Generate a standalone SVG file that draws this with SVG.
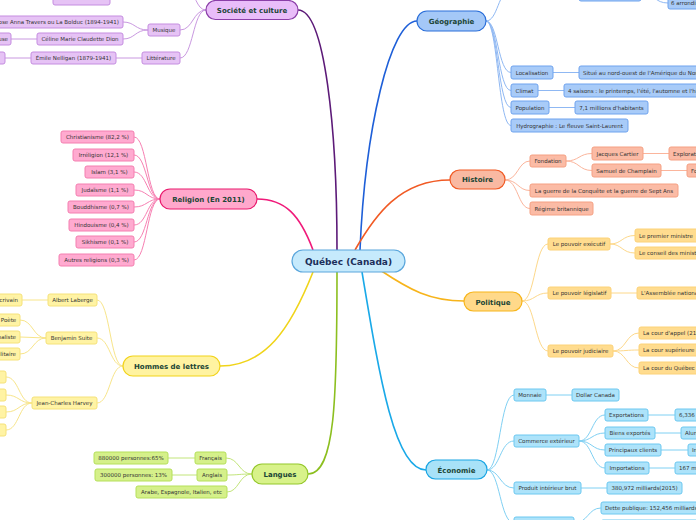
<svg xmlns="http://www.w3.org/2000/svg" width="696" height="520" viewBox="0 0 696 520">
<style>
text{font-family:"DejaVu Sans","Verdana",sans-serif;}
.m{font-size:7px;font-weight:bold;fill:#1b4535;text-anchor:middle;}
.c{font-size:9px;font-weight:bold;fill:#1c2f5a;text-anchor:middle;}
.t{font-size:5.5px;fill:#333;text-anchor:middle;}
.s{font-size:5.5px;fill:#333;text-anchor:start;}
.e{font-size:5.5px;fill:#333;text-anchor:end;}
.l{fill:none;}
.soc rect{fill:#e6c3f5;stroke:#c58de0;stroke-width:1;}
.geo rect{fill:#a8cbf8;stroke:#6fa3ee;stroke-width:1;}
.his rect{fill:#fbbba5;stroke:#f5a083;stroke-width:1;}
.pol rect{fill:#ffdc8f;stroke:#fcd278;stroke-width:1;}
.eco rect{fill:#ade3fa;stroke:#6cc8f0;stroke-width:1;}
.lan rect{fill:#d5f08a;stroke:#b5e05a;stroke-width:1;}
.hom rect{fill:#fff3a4;stroke:#f5e27a;stroke-width:1;}
.rel rect{fill:#ffaad0;stroke:#f47fb0;stroke-width:1;}
</style>
<g id="connectors" fill="none">
<g stroke-width="1.6">
<path d="M337,250 C337,130 325,10 298,10" stroke="#5c1a78"/>
<path d="M360,250 C365,130 390,21 417,21" stroke="#1e5fd8"/>
<path d="M355,250 C375,215 400,180 450,180" stroke="#f15a24"/>
<path d="M313,250 C300,215 285,199 257,199" stroke="#f01a7a"/>
<path d="M380,270 C410,290 430,301 464,301" stroke="#f7b41b"/>
<path d="M362,272 C380,380 395,470 426,470" stroke="#1aa9e8"/>
<path d="M337,272 C337,400 335,474 308,474" stroke="#8cbf1f"/>
<path d="M313,272 C290,330 265,366 220,366" stroke="#f0d41a"/>
</g>
<g stroke="#c998e0" stroke-width="1">
<path d="M206,10 C193,10 193,30 180,30"/>
<path d="M206,10 C193,10 193,58 180,58"/>
<path d="M206,10 C196,10 196,-8 186,-12"/>
<path d="M148,30 C135,30 135,22 123,22"/>
<path d="M148,30 C135,30 135,39 123,39"/>
<path d="M37,39 L11,39"/>
<path d="M142,58 L116,58"/>
<path d="M31,58 L5,58"/>
</g>
<g stroke="#f77fb2" stroke-width="1">
<path d="M160,199 C147,199 147,137 134,137"/>
<path d="M160,199 C147,199 147,155 134,155"/>
<path d="M160,199 C147,199 147,172 134,172"/>
<path d="M160,199 C147,199 147,190 134,190"/>
<path d="M160,199 C147,199 147,207 134,207"/>
<path d="M160,199 C147,199 147,225 134,225"/>
<path d="M160,199 C147,199 147,242 134,242"/>
<path d="M160,199 C147,199 147,260 134,260"/>
</g>
<g stroke="#8fb8f3" stroke-width="1">
<path d="M486,21 C498,21 498,-10 511,-10"/>
<path d="M486,21 C498,21 498,72.5 511,72.5"/>
<path d="M486,21 C498,21 498,90.5 511,90.5"/>
<path d="M486,21 C498,21 498,107.5 511,107.5"/>
<path d="M486,21 C498,21 498,125.5 511,125.5"/>
<path d="M553,72.5 L579,72.5"/>
<path d="M538,90.5 L564,90.5"/>
<path d="M549,107.5 L575,107.5"/>
<path d="M641,-6 C655,-6 655,3 668,3"/>
</g>
<g stroke="#fbb59c" stroke-width="1">
<path d="M505,180 C518,180 518,161 530,161"/>
<path d="M505,180 C518,180 518,190.5 530,190.5"/>
<path d="M505,180 C518,180 518,208.5 530,208.5"/>
<path d="M566,161 C579,161 579,153.5 592,153.5"/>
<path d="M566,161 C579,161 579,170.5 592,170.5"/>
<path d="M643,153.5 L669,153.5"/>
<path d="M661,170.5 L687,170.5"/>
</g>
<g stroke="#fdd88a" stroke-width="1">
<path d="M522,301 C535,301 535,244 548,244"/>
<path d="M522,301 C535,301 535,293 548,293"/>
<path d="M522,301 C535,301 535,351 548,351"/>
<path d="M610,244 C622,244 622,235.5 635,235.5"/>
<path d="M610,244 C622,244 622,253 635,253"/>
<path d="M611,293 L637,293"/>
<path d="M613,351 C626,351 626,333 639,333"/>
<path d="M613,351 C626,351 626,350 639,350"/>
<path d="M613,351 C626,351 626,368 639,368"/>
</g>
<g stroke="#7fd0f3" stroke-width="1">
<path d="M487,470 C500,470 500,395 514,395"/>
<path d="M487,470 C500,470 500,441 514,441"/>
<path d="M487,470 C500,470 500,488 514,488"/>
<path d="M487,470 C500,470 500,523 514,523"/>
<path d="M546,395 L572,395"/>
<path d="M579,441 C592,441 592,415 605,415"/>
<path d="M579,441 C592,441 592,433 605,433"/>
<path d="M579,441 C592,441 592,450 605,450"/>
<path d="M579,441 C592,441 592,468 605,468"/>
<path d="M648,415 L675,415"/>
<path d="M655,433 L681,433"/>
<path d="M661,450 L688,450"/>
<path d="M649,468 L675,468"/>
<path d="M581,488 L607,488"/>
<path d="M574,523 C588,523 588,508 601,508"/>
<path d="M574,523 C588,523 588,526 601,526"/>
</g>
<g stroke="#c2e57a" stroke-width="1">
<path d="M252,474 C239,474 239,458 226,458"/>
<path d="M252,474 C239,474 239,475 227,475"/>
<path d="M252,474 C239,474 239,492 227,492"/>
<path d="M195,458 L168,458"/>
<path d="M197,475 L172,475"/>
</g>
<g stroke="#f8e58a" stroke-width="1">
<path d="M123,366 C110,366 110,300 97,300"/>
<path d="M123,366 C110,366 110,338 97,338"/>
<path d="M123,366 C110,366 110,403 97,403"/>
<path d="M48,300 L22,300"/>
<path d="M46,338 C33,338 33,320 20,320"/>
<path d="M46,338 L20,337"/>
<path d="M46,338 C33,338 33,354 20,354"/>
<path d="M32,403 C19,403 19,377 6,377"/>
<path d="M32,403 C19,403 19,395 6,395"/>
<path d="M32,403 C19,403 19,412 6,412"/>
<path d="M32,403 C19,403 19,430 6,430"/>
</g>
</g>

<g id="quebec"><rect x="292" y="250" width="113" height="22" rx="11" fill="#c6eafc" stroke="#5aa6dc" stroke-width="1.2"/><text class="c" x="348.5" y="264.5">Québec (Canada)</text></g>

<g id="societe"><rect x="206" y="0.5" width="92" height="19" rx="9.5" fill="#e9bdf9" stroke="#8b3fa8" stroke-width="1.2"/><text class="m" x="252" y="12.5">Société et culture</text></g>
<g id="soc-children" class="soc">
<g id="musique"><rect x="148" y="24" width="32" height="12" rx="2"/><text class="t" x="164" y="32">Musique</text></g>
<g id="litterature"><rect x="142" y="52" width="38" height="12" rx="2"/><text class="t" x="161" y="60">Littérature</text></g>
<g id="bolduc"><rect x="-80" y="16" width="203" height="12" rx="2"/><text class="e" x="119" y="24">Mary Rose Anna Travers ou La Bolduc (1894-1941)</text></g>
<g id="celine"><rect x="37" y="33" width="86" height="12" rx="2"/><text class="t" x="80" y="41">Céline Marie Claudette Dion</text></g>
<g id="celine-c"><rect x="-35" y="33" width="46" height="12" rx="2"/><text class="e" x="8" y="41">Chanteuse</text></g>
<g id="nelligan"><rect x="31" y="52" width="85" height="12" rx="2"/><text class="t" x="73.5" y="60">Émile Nelligan (1879-1941)</text></g>
<g id="nelligan-c"><rect x="-30" y="52" width="35" height="12" rx="2"/></g>
<g id="soc-top"><rect x="53" y="-7" width="57" height="12" rx="2"/></g>
</g>

<g id="geographie"><rect x="417" y="11" width="69" height="20" rx="10" fill="#a4c8f7" stroke="#2a6ed9" stroke-width="1.2"/><text class="m" x="451.5" y="23.5">Géographie</text></g>
<g id="geo-children" class="geo">
<g id="geo-top"><rect x="579" y="-12" width="62" height="13" rx="2"/></g>
<g id="arrond"><rect x="668" y="-3" width="40" height="12" rx="2"/><text class="s" x="671" y="5">6 arrondissements</text></g>
<g id="localisation"><rect x="511" y="66" width="42" height="13" rx="2"/><text class="t" x="532" y="74.5">Localisation</text></g>
<g id="situe"><rect x="579" y="66" width="140" height="13" rx="2"/><text class="s" x="583" y="74.5">Situé au nord-ouest de l'Amérique du Nord</text></g>
<g id="climat"><rect x="511" y="84" width="27" height="13" rx="2"/><text class="t" x="524.5" y="92.5">Climat</text></g>
<g id="saisons"><rect x="564" y="84" width="160" height="13" rx="2"/><text class="s" x="568" y="92.5">4 saisons : le printemps, l'été, l'automne et l'hiver</text></g>
<g id="population"><rect x="511" y="101" width="38" height="13" rx="2"/><text class="t" x="530" y="109.5">Population</text></g>
<g id="habitants"><rect x="575" y="101" width="73" height="13" rx="2"/><text class="t" x="611.5" y="109.5">7,1 millions d'habitants</text></g>
<g id="hydro"><rect x="511" y="119" width="117" height="13" rx="2"/><text class="t" x="569.5" y="127.5">Hydrographie : Le fleuve Saint-Laurent</text></g>
</g>

<g id="histoire"><rect x="450" y="170" width="55" height="19" rx="9.5" fill="#f9b9a2" stroke="#f15a24" stroke-width="1.2"/><text class="m" x="477.5" y="182">Histoire</text></g>
<g id="his-children" class="his">
<g id="fondation"><rect x="530" y="155" width="36" height="12" rx="2"/><text class="t" x="548" y="163">Fondation</text></g>
<g id="cartier"><rect x="592" y="147" width="51" height="13" rx="2"/><text class="t" x="617.5" y="155.5">Jacques Cartier</text></g>
<g id="explorateur"><rect x="669" y="147" width="50" height="13" rx="2"/><text class="s" x="673" y="155.5">Explorateur</text></g>
<g id="champlain"><rect x="592" y="164" width="69" height="13" rx="2"/><text class="t" x="626.5" y="172.5">Samuel de Champlain</text></g>
<g id="fondateur"><rect x="687" y="164" width="40" height="13" rx="2"/><text class="s" x="691" y="172.5">Fondateur</text></g>
<g id="guerre"><rect x="530" y="184" width="148" height="13" rx="2"/><text class="t" x="604" y="192.5">La guerre de la Conquête et la guerre de Sept Ans</text></g>
<g id="regime"><rect x="530" y="202" width="63" height="13" rx="2"/><text class="t" x="561.5" y="210.5">Régime britannique</text></g>
</g>

<g id="politique"><rect x="464" y="292" width="58" height="19" rx="9.5" fill="#ffd98a" stroke="#f7b51b" stroke-width="1.2"/><text class="m" x="493" y="304.5">Politique</text></g>
<g id="pol-children" class="pol">
<g id="executif"><rect x="548" y="238" width="62" height="12" rx="2"/><text class="t" x="579" y="246">Le pouvoir exécutif</text></g>
<g id="premier"><rect x="635" y="229" width="80" height="13" rx="2"/><text class="s" x="639" y="237.5">Le premier ministre</text></g>
<g id="conseil"><rect x="635" y="247" width="80" height="12" rx="2"/><text class="s" x="639" y="255">Le conseil des ministres</text></g>
<g id="legislatif"><rect x="548" y="287" width="63" height="12" rx="2"/><text class="t" x="579.5" y="295">Le pouvoir législatif</text></g>
<g id="assemblee"><rect x="637" y="287" width="80" height="12" rx="2"/><text class="s" x="641" y="295">L'Assemblée nationale</text></g>
<g id="judiciaire"><rect x="548" y="345" width="65" height="12" rx="2"/><text class="t" x="580.5" y="353">Le pouvoir judiciaire</text></g>
<g id="appel"><rect x="639" y="327" width="80" height="12" rx="2"/><text class="s" x="643" y="335">La cour d'appel (21</text></g>
<g id="superieure"><rect x="639" y="344" width="80" height="12" rx="2"/><text class="s" x="643" y="352">La cour supérieure</text></g>
<g id="courquebec"><rect x="639" y="362" width="80" height="12" rx="2"/><text class="s" x="643" y="370">La cour du Québec</text></g>
</g>

<g id="economie"><rect x="426" y="460" width="61" height="19" rx="9.5" fill="#a8e2f8" stroke="#1aa5e3" stroke-width="1.2"/><text class="m" x="456.5" y="472.5">Économie</text></g>
<g id="eco-children" class="eco">
<g id="monnaie"><rect x="514" y="389" width="32" height="12" rx="2"/><text class="t" x="530" y="397">Monnaie</text></g>
<g id="dollar"><rect x="572" y="389" width="47" height="12" rx="2"/><text class="t" x="595.5" y="397">Dollar Canada</text></g>
<g id="commerce"><rect x="514" y="435" width="65" height="12" rx="2"/><text class="t" x="546.5" y="443">Commerce extérieur</text></g>
<g id="exportations"><rect x="605" y="409" width="43" height="12" rx="2"/><text class="t" x="626.5" y="417">Exportations</text></g>
<g id="exp-v"><rect x="675" y="409" width="40" height="12" rx="2"/><text class="s" x="679" y="417">6,336</text></g>
<g id="biens"><rect x="605" y="427" width="50" height="12" rx="2"/><text class="t" x="630" y="435">Biens exportés</text></g>
<g id="biens-v"><rect x="681" y="427" width="40" height="12" rx="2"/><text class="s" x="685" y="435">Aluminium</text></g>
<g id="clients"><rect x="605" y="444" width="56" height="12" rx="2"/><text class="t" x="633" y="452">Principaux clients</text></g>
<g id="clients-v"><rect x="688" y="444" width="30" height="12" rx="2"/><text class="s" x="692" y="452">In</text></g>
<g id="importations"><rect x="605" y="462" width="44" height="12" rx="2"/><text class="t" x="627" y="470">Importations</text></g>
<g id="imp-v"><rect x="675" y="462" width="50" height="12" rx="2"/><text class="s" x="679" y="470">167 milliards</text></g>
<g id="pib"><rect x="514" y="482" width="67" height="12" rx="2"/><text class="t" x="547.5" y="490">Produit intérieur brut</text></g>
<g id="pib-v"><rect x="607" y="482" width="75" height="12" rx="2"/><text class="t" x="644.5" y="490">380,972 milliards(2015)</text></g>
<g id="eco-bottom"><rect x="514" y="517" width="60" height="12" rx="2"/></g>
<g id="dette"><rect x="601" y="502" width="110" height="12" rx="2"/><text class="s" x="605" y="510">Dette publique: 152,456 milliards</text></g>
<g id="eco-bottom2"><rect x="601" y="520" width="100" height="12" rx="2"/></g>
</g>

<g id="langues"><rect x="252" y="464" width="56" height="20" rx="10" fill="#d8f28a" stroke="#94c72a" stroke-width="1.2"/><text class="m" x="280" y="476.5">Langues</text></g>
<g id="lan-children" class="lan">
<g id="francais"><rect x="195" y="452" width="31" height="12" rx="2"/><text class="t" x="210.5" y="460">Français</text></g>
<g id="fr-v"><rect x="94" y="452" width="74" height="12" rx="2"/><text class="t" x="131" y="460">880000 personnes:65%</text></g>
<g id="anglais"><rect x="197" y="469" width="30" height="12" rx="2"/><text class="t" x="212" y="477">Anglais</text></g>
<g id="en-v"><rect x="95" y="469" width="77" height="12" rx="2"/><text class="t" x="133.5" y="477">300000 personnes:  13%</text></g>
<g id="autres-l"><rect x="136" y="486" width="91" height="12" rx="2"/><text class="t" x="181.5" y="494">Arabe, Espagnole, Italien, etc</text></g>
</g>

<g id="hommes"><rect x="123" y="356" width="97" height="20" rx="10" fill="#fff3a1" stroke="#f2d31b" stroke-width="1.2"/><text class="m" x="171.5" y="368.5">Hommes de lettres</text></g>
<g id="hom-children" class="hom">
<g id="laberge"><rect x="48" y="294" width="49" height="12" rx="2"/><text class="t" x="72.5" y="302">Albert Laberge</text></g>
<g id="ecrivain"><rect x="-8" y="294" width="30" height="12" rx="2"/><text class="t" x="7" y="302">Écrivain</text></g>
<g id="sulte"><rect x="46" y="332" width="51" height="12" rx="2"/><text class="t" x="71.5" y="340">Benjamin Suite</text></g>
<g id="poete"><rect x="-3" y="314" width="23" height="12" rx="2"/><text class="t" x="8.5" y="322">Poète</text></g>
<g id="journaliste"><rect x="-17" y="331" width="37" height="12" rx="2"/><text class="t" x="1.5" y="339">Journaliste</text></g>
<g id="militaire"><rect x="-10" y="348" width="30" height="12" rx="2"/><text class="t" x="5" y="356">Militaire</text></g>
<g id="harvey"><rect x="32" y="397" width="65" height="12" rx="2"/><text class="t" x="64.5" y="405">Jean-Charles Harvey</text></g>
<g id="harvey-1"><rect x="-30" y="371" width="36" height="12" rx="2"/></g>
<g id="harvey-2"><rect x="-30" y="389" width="36" height="12" rx="2"/></g>
<g id="harvey-3"><rect x="-30" y="406" width="36" height="12" rx="2"/></g>
<g id="harvey-4"><rect x="-30" y="424" width="36" height="12" rx="2"/></g>
</g>

<g id="religion"><rect x="160" y="189" width="97" height="20" rx="10" fill="#ffa8cc" stroke="#ea1a6e" stroke-width="1.2"/><text class="m" x="208.5" y="201.5">Religion (En 2011)</text></g>
<g id="rel-children" class="rel">
<g id="christianisme"><rect x="61" y="131" width="73" height="12" rx="2"/><text class="t" x="97.5" y="139">Christianisme (82,2 %)</text></g>
<g id="irreligion"><rect x="73" y="149" width="61" height="12" rx="2"/><text class="t" x="103.5" y="157">Irréligion (12,1 %)</text></g>
<g id="islam"><rect x="85" y="166" width="49" height="12" rx="2"/><text class="t" x="109.5" y="174">Islam (3,1 %)</text></g>
<g id="judaisme"><rect x="76" y="184" width="58" height="12" rx="2"/><text class="t" x="105" y="192">Judaïsme (1,1 %)</text></g>
<g id="bouddhisme"><rect x="68" y="201" width="66" height="12" rx="2"/><text class="t" x="101" y="209">Bouddhisme (0,7 %)</text></g>
<g id="hindouisme"><rect x="69" y="219" width="65" height="12" rx="2"/><text class="t" x="101.5" y="227">Hindouisme (0,4 %)</text></g>
<g id="sikhisme"><rect x="76" y="236" width="58" height="12" rx="2"/><text class="t" x="105" y="244">Sikhisme (0,1 %)</text></g>
<g id="autres"><rect x="59" y="254" width="75" height="12" rx="2"/><text class="t" x="96.5" y="262">Autres religions (0,3 %)</text></g>
</g>
</svg>
